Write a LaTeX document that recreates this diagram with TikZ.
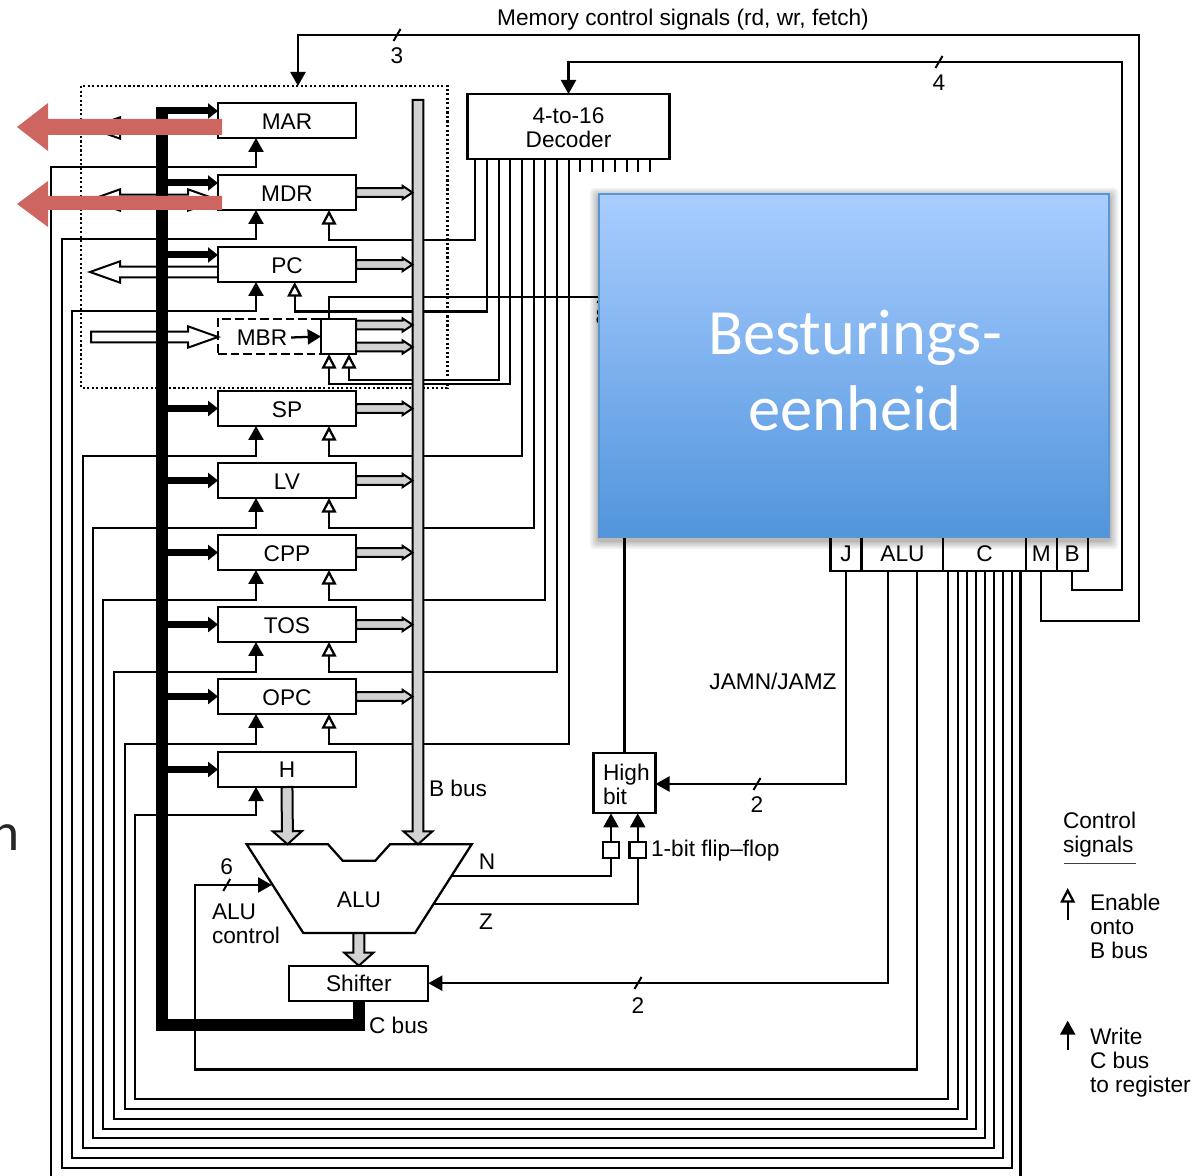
\documentclass[tikz,border=0pt]{standalone}
\usepackage{fontspec}
\setmainfont{Liberation Sans}
\newfontfamily\slidefont{Carlito}
\usetikzlibrary{arrows.meta,calc}
\definecolor{redarrow}{HTML}{CD6660}
\definecolor{busgrey}{HTML}{D2D2D2}
\definecolor{bluetop}{HTML}{A9CDFF}
\definecolor{bluebot}{HTML}{5195DC}
\definecolor{blueedge}{HTML}{5B96D2}
\tikzset{
  wire/.style={line width=1.7pt,line join=miter},
  wr/.style={wire,-{Triangle[length=10.5pt,width=11.25pt]}},
  en/.style={wire,-{Triangle[open,length=11pt,width=11pt,fill=white]}},
  cin/.style={line width=5.25pt,-{Triangle[length=7.5pt,width=11.25pt]}},
  fatline/.style={line width=1.5pt,line join=miter},
  reg/.style={draw,line width=1.7pt,fill=white,minimum width=103.5pt,minimum height=26.25pt,inner sep=0pt,outer sep=0pt},
  rt/.style={reg,text height=13.6pt},
  txt/.style={inner sep=0pt,outer sep=0pt},
  tick/.style={line width=1.5pt},
  redarr/.style={fill=redarrow,draw=none},
}
% fill, from, to, shaft half-width, head half-width, head length
\newcommand\fatarrow[6]{%
  \coordinate (neck) at ($(#3)!#6!(#2)$);
  \draw[fatline,fill=#1] ($(#2)!#4!90:(#3)$) -- ($(neck)!#4!90:(#3)$) -- ($(neck)!#5!90:(#3)$) -- (#3)
    -- ($(neck)!#5!-90:(#3)$) -- ($(neck)!#4!-90:(#3)$) -- ($(#2)!#4!-90:(#3)$) -- cycle;
}
\newcommand\smallgrey[2]{\fatarrow{busgrey}{#1}{#2}{3.3pt}{5pt}{7.5pt}}
\newcommand\biggrey[2]{\fatarrow{busgrey}{#1}{#2}{4.1pt}{10.9pt}{9.75pt}}
\newcommand\hollow[2]{\fatarrow{white}{#1}{#2}{4.1pt}{8pt}{22.5pt}}
\newcommand\slashmark[1]{\draw[tick] ([shift={(-3.5,6)}]#1) -- ([shift={(3.5,-6)}]#1);}
\begin{document}
\begin{tikzpicture}[x=0.75pt,y=-0.75pt,font=\fontsize{17}{18}\selectfont]
\useasboundingbox (0,0) rectangle (1204,1176);
\begin{scope}
\clip (0,0) rectangle (1204,1176);

% dotted frame
\draw[line width=1.6pt,dash pattern=on 1.6pt off 1.8pt] (81,86) rectangle (447.5,388);

% hollow memory arrows
\coordinate (marL) at (90,128);
\coordinate (mdrL) at (90,200);
\coordinate (mdrR) at (218,200);
\coordinate (pcL) at (90,272);
\coordinate (mbrIn) at (91,337);
\coordinate (mbrEnd) at (218,337);
\hollow{162,128}{marL}
\hollow{162,200}{mdrL}
\hollow{162,200}{mdrR}
\hollow{218,272}{pcL}
\hollow{mbrIn}{mbrEnd}

% register nodes
\node[rt] (MAR) at (287,120.5) {MAR};
\node[rt] (MDR) at (287,192.5) {MDR};
\node[rt] (PC) at (287,264.5) {PC};
\node[rt] (SP) at (287,408.5) {SP};
\node[rt] (LV) at (287,480.5) {LV};
\node[rt] (CPP) at (287,552.5) {CPP};
\node[rt] (TOS) at (287,624.5) {TOS};
\node[rt] (OPC) at (287,696.5) {OPC};
\node[reg] (H) at (287,769.5) {H};
\node[draw,line width=1.7pt,minimum width=77.25pt,minimum height=26.25pt,inner sep=0pt,dash pattern=on 6.5pt off 3pt] (MBR) at (269.5,336.5) {};
\node[reg,minimum width=26.25pt] (MBRS) at (338.5,336.5) {};
\node[txt,inner sep=3pt] (MBRT) at (262,337.5) {MBR};
\node[reg,minimum width=151.5pt,minimum height=48.75pt] (DEC) at (568.5,126.5) {};
\node[txt,align=center] (DECT) at (568.5,127.5) {4-to-16\\Decoder};
\node[reg,minimum width=46.5pt,minimum height=45.5pt] (HB) at (624.5,783) {};
\node[txt,align=left,anchor=west] (HBT) at (603,784.5) {High\\bit};
\node[reg,minimum width=104.25pt,minimum height=26.25pt] (SH) at (358.8,983.2) {Shifter};
\node[reg,minimum width=12.2pt,minimum height=12pt] (FF1) at (611,850) {};
\node[reg,minimum width=12.2pt,minimum height=12pt] (FF2) at (637.7,850) {};

% control word boxes (upper part hidden by the blue box)
\node[reg,minimum width=23.25pt,minimum height=50pt,anchor=south] (BJ) at (846,571) {};
\node[reg,minimum width=61.25pt,minimum height=50pt,anchor=south] (BA) at (902.5,571) {};
\node[reg,minimum width=61.75pt,minimum height=50pt,anchor=south] (BC) at (984.5,571) {};
\node[reg,minimum width=23.25pt,minimum height=50pt,anchor=south] (BM) at (1041.2,571) {};
\node[reg,minimum width=23.25pt,minimum height=50pt,anchor=south] (BB) at (1072.2,571) {};
\node[txt] at (846,554) {J};
\node[txt] at (902.5,554) {ALU};
\node[txt] at (984.5,554) {C};
\node[txt] at (1041.2,554) {M};
\node[txt] at (1072.2,554) {B};

% decoder stubs
\foreach \x in {580,592,603.3,615,626.7,638,649.7} \draw[wire] (\x,159) -- (\x,172);

% Enable wires (decoder to registers)
\draw[en] (475.3,159) |- (329,240) -- (329,210);
\draw[en] (487,159) |- (294.7,311.5) -- (294.7,282);
\draw[en] (498.7,159) |- (349,380) -- (349,354);
\draw[en] (510.3,159) |- (329,384) -- (329,354);
\draw[en] (522,159) |- (329,456) -- (329,426);
\draw[en] (533.7,159) |- (329,528) -- (329,498);
\draw[en] (545.3,159) |- (329,600) -- (329,570);
\draw[en] (557,159) |- (329,672) -- (329,642);
\draw[en] (568.7,159) |- (329,744) -- (329,714);

% C-bus write wires
\draw[wr] (1020.5,571) |- (51,1177) -- (51,167) -| (256,138);
\draw[wr] (1012,571) |- (61.7,1168) -- (61.7,239) -| (256,210);
\draw[wr] (1002.7,571) |- (72,1158) -- (72,311) -| (256,282);
\draw[wr] (993.7,571) |- (82.7,1148) -- (82.7,456) -| (256,426);
\draw[wr] (984.7,571) |- (93,1138.3) -- (93,528) -| (256,498);
\draw[wr] (975.7,571) |- (103.3,1128.7) -- (103.3,600) -| (256,570);
\draw[wr] (966.7,571) |- (114,1118.7) -- (114,672) -| (256,642);
\draw[wr] (957.7,571) |- (124.7,1109) -- (124.7,744) -| (256,714);
\draw[wr] (948,571) |- (135,1099) -- (135,815) -| (256,787);

% MPC line from MBR square to control unit
\coordinate (t8) at (601,297);
\draw[wire] (329,319) |- (620,297);
\slashmark{t8}
\node[txt] at (602,317) {8};

% memory control
\coordinate (t3) at (397,35);
\coordinate (t4) at (939,62);
\draw[wr] (1041,571) |- (1139,621) |- (298,35) -- (298,86);
\slashmark{t3}
\node[txt] at (397,55.5) {3};
\draw[wr] (1072.2,571) |- (1122.3,590) |- (DEC.north |- 0,62) -- (DEC.north);
\slashmark{t4}
\node[txt] at (939,82.5) {4};

% ALU polygon
\coordinate (A1) at (246.7,844.3);
\coordinate (A2) at (328,844.3);
\coordinate (A3) at (342.7,860.7);
\coordinate (A4) at (375.3,860.7);
\coordinate (A5) at (390,844.3);
\coordinate (A6) at (471.7,844.3);
\coordinate (A7) at (415,933);
\coordinate (A8) at (303.3,933);
\draw[wire,fill=white] (A1) -- (A2) -- (A3) -- (A4) -- (A5) -- (A6) -- (A7) -- (A8) -- cycle;
\node[txt] (ALU) at (359,899.5) {ALU};

% B bus and grey arrows
\coordinate (bTop) at (418,100);
\coordinate (bEnd) at (418,844.3);
\coordinate (hEnd) at (287.5,844.3);
\biggrey{bTop}{bEnd}
\smallgrey{MDR.east}{412.5,192.5}
\smallgrey{PC.east}{412.5,264.5}
\smallgrey{356,325}{412.5,325}
\smallgrey{356,347}{412.5,347}
\smallgrey{SP.east}{412.5,408.5}
\smallgrey{LV.east}{412.5,480.5}
\smallgrey{CPP.east}{412.5,552.5}
\smallgrey{TOS.east}{412.5,624.5}
\smallgrey{OPC.east}{412.5,696.5}
\biggrey{H.south}{hEnd}
\biggrey{358.8,933}{SH.north}

% MBR inner arrow
\draw[wire,-{Triangle[length=10pt,width=11.25pt]}] (MBRT.east) -- (MBRS.west);

% C bus
\coordinate (cTop) at (161.7,107);
\coordinate (cCorner) at (161.7,1025);
\draw[line width=9pt,line join=miter] (SH.south) |- (cCorner) -- (cTop);
\draw[cin] (161.7,111) -- (MAR.west |- 0,111);
\draw[cin] (161.7,183) -- (MDR.west |- 0,183);
\draw[cin] (161.7,255) -- (PC.west |- 0,255);
\draw[cin] (161.7,408.5) -- (SP.west);
\draw[cin] (161.7,480.5) -- (LV.west);
\draw[cin] (161.7,552.5) -- (CPP.west);
\draw[cin] (161.7,624.5) -- (TOS.west);
\draw[cin] (161.7,696.5) -- (OPC.west);
\draw[cin] (161.7,769.5) -- (H.west);

% jump / ALU wires
\coordinate (t2a) at (757,784);
\coordinate (t2b) at (638,983);
\coordinate (t6) at (226.7,885);
\draw[wr] (846,571) |- (HB.east |- 0,784);
\slashmark{t2a}
\node[txt] at (757,804.5) {2};
\draw[wr] (888,571) |- (SH.east);
\slashmark{t2b}
\node[txt] at (638,1005.5) {2};
\draw[wr] (917,571) |- (195,1069.5) |- (272,885);
\slashmark{t6}
\node[txt] at (226.7,867) {6};
\node[txt,align=left,anchor=west] at (212,924) {ALU\\control};

% flip-flops
\draw[wire] (452,876) -| (FF1.south);
\draw[wire] (433,904) -| (FF2.south);
\draw[wr] (FF1.north) -- (FF1.north |- HB.south);
\draw[wr] (FF2.north) -- (FF2.north |- HB.south);
\node[txt,anchor=west] at (651,851) {1-bit flip–flop};
\draw[wire] (624.5,530) -- (HB.north);

% plain labels
\node[txt] at (683,19.5) {Memory control signals (rd, wr, fetch)};
\node[txt] at (773,681.5) {JAMN/JAMZ};
\node[txt,anchor=west] at (429,788.5) {B bus};
\node[txt,anchor=west] at (369,1025) {C bus};
\node[txt] at (487,861.5) {N};
\node[txt] at (486,921.5) {Z};

% legend
\node[txt,align=left,anchor=west] at (1063,834.5) {Control\\signals};
\draw[line width=0.9pt,black!75] (1064,863.3) -- (1135.7,863.3);
\coordinate (legA) at (1067.7,888);
\coordinate (legB) at (1067.7,1020.7);
\draw[en] (1067.7,920) -- (legA);
\node[txt,align=left,anchor=west] at (1090,926) {Enable\\onto\\B bus};
\draw[wr] (1067.7,1050) -- (legB);
\node[txt,align=left,anchor=west] at (1090,1062.5) {Write\\C bus\\to register};

% red overlay arrows
\fill[redarr] (222,119) -- (48,119) -- (48,103) -- (17,127) -- (48,151) -- (48,135) -- (222,135) -- cycle;
\fill[redarr] (222,196) -- (48,196) -- (48,181) -- (17,204) -- (48,227) -- (48,210) -- (222,210) -- cycle;

% blue box with soft shadow
\foreach \d in {8,6.5,5,3.5,2,1}
  \fill[black,opacity=0.05,rounded corners=3pt] (598-\d,193+3-\d) rectangle (1110+\d,538+3+\d);
\node[draw=blueedge,line width=1.6pt,top color=bluetop,bottom color=bluebot,minimum width=382.5pt,minimum height=257.25pt,inner sep=0pt,outer sep=0pt] (CU) at (854,365.5) {};
\node[txt,text=white,align=center,font=\slidefont\fontsize{48.4}{57}\selectfont] (CUT) at (855,371) {Besturings-\\eenheid};

% cut-off slide text
\node[txt,anchor=base east,font=\slidefont\fontsize{40}{48}\selectfont,text=black!85] (CUTN) at (20,850) {n};
\end{scope}
\end{tikzpicture}
\end{document}
